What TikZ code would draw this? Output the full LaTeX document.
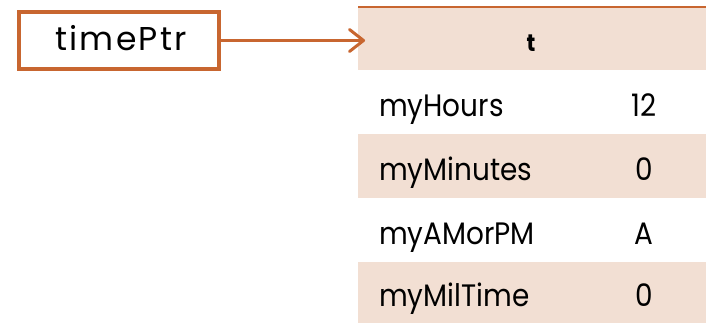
\documentclass[tikz,border=0pt]{standalone}
\usepackage{fontspec}
\setmainfont[FakeStretch=0.9]{Poppins}
\newfontfamily\ptrfont[LetterSpace=7]{Poppins}
\usetikzlibrary{arrows.meta}
\definecolor{rust}{RGB}{200,102,48}
\definecolor{blush}{RGB}{242,223,211}
\begin{document}
\begin{tikzpicture}[x=1pt,y=-1pt,
  ptrbox/.style={draw=rust,line width=3.5pt,fill=white,minimum width=200pt,minimum height=57pt,inner sep=0pt},
  ptrtext/.style={anchor=base,font=\ptrfont\fontsize{33}{35}\selectfont,inner sep=0pt},
  rowband/.style={minimum width=348pt,minimum height=64pt,inner sep=0pt,anchor=north west},
  pinkrow/.style={rowband,fill=blush},
  whiterow/.style={rowband,fill=white},
  fieldname/.style={anchor=base west,font=\fontsize{31}{33}\selectfont,inner sep=0pt,yshift=-14pt},
  fieldval/.style={anchor=base,font=\fontsize{31}{33}\selectfont,inner sep=0pt,yshift=-14pt}]
\useasboundingbox (0,0) rectangle (707,323);
% pointer variable
\node[ptrbox] (ptr) at (119,40.5) {};
\node[ptrtext] (ptrlabel) at (121,51) {timePtr};
% structure rows
\node[pinkrow,minimum height=63pt] (hdr) at (358,7) {};
\node[whiterow] (r1) at (358,70) {};
\node[pinkrow] (r2) at (358,134) {};
\node[whiterow] (r3) at (358,198) {};
\node[pinkrow,minimum height=61pt] (r4) at (358,262) {};
\draw[rust,line width=2pt] (hdr.north west) -- (hdr.north east);
\node[font=\fontsize{24}{26}\selectfont\bfseries,anchor=base,inner sep=0pt] (title) at (531,52) {t};
% field names and values
\coordinate (namecol) at (379,0);
\coordinate (valcol) at (644,0);
\node[fieldname] (n1) at (r1.center -| namecol) {myHours};
\node[fieldname] (n2) at (r2.center -| namecol) {myMinutes};
\node[fieldname] (n3) at (r3.center -| namecol) {myAMorPM};
\node[fieldname] (n4) at (r4.center -| namecol) {myMilTime};
\node[fieldval] (v1) at (r1.center -| valcol) {12};
\node[fieldval] (v2) at (r2.center -| valcol) {0};
\node[fieldval] (v3) at (r3.center -| valcol) {A};
\node[fieldval] (v4) at (r4.center -| valcol) {0};
% pointer arrow
\draw[rust,line width=3pt,line join=round,line cap=round,
  -{Straight Barb[length=14pt,width=22pt,line join=round,line cap=round]},shorten >=-7pt]
  (ptr.east) -- (ptr.east -| hdr.west);
\end{tikzpicture}
\end{document}
